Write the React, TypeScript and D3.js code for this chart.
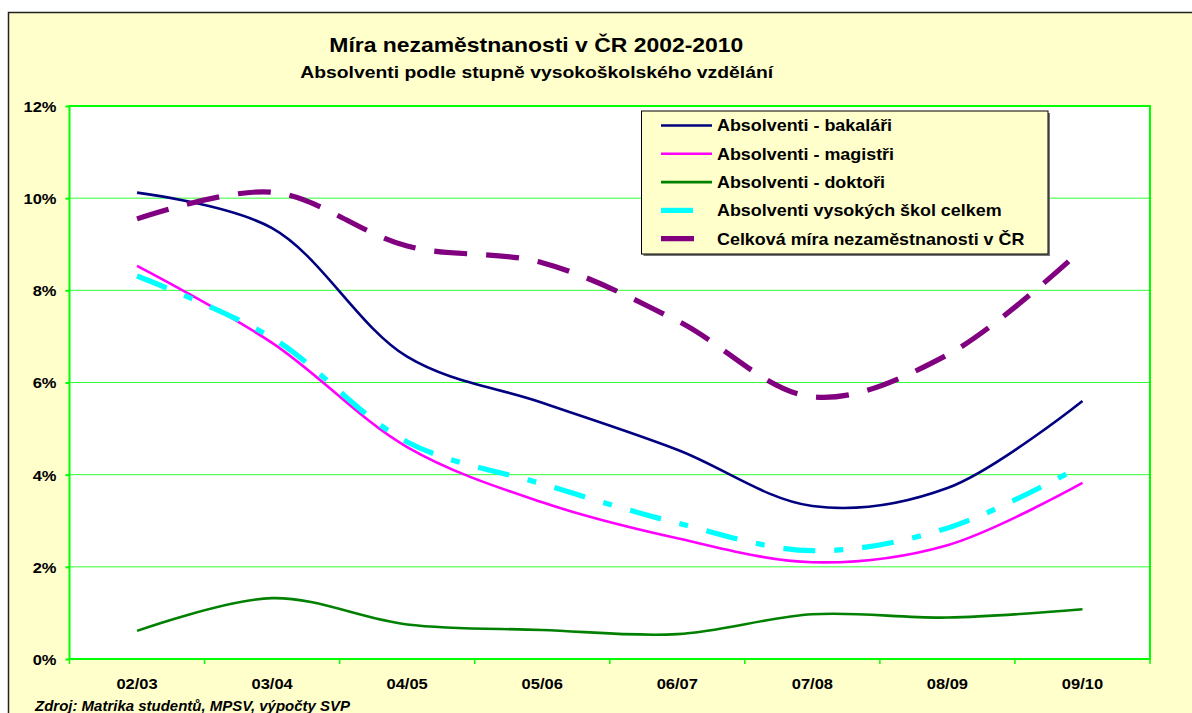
import * as d3 from "d3";
import { useEffect, useRef } from "react";

// data (percent)
const categories = ["02/03", "03/04", "04/05", "05/06", "06/07", "07/08", "08/09", "09/10"];
const bakalari = [10.12, 9.35, 6.56, 5.56, 4.54, 3.32, 3.71, 5.6];
const magistri = [8.53, 6.86, 4.6, 3.4, 2.62, 2.1, 2.47, 3.82];
const doktori = [0.61, 1.32, 0.75, 0.63, 0.54, 0.97, 0.9, 1.08];
const celkem = [8.31, 6.97, 4.71, 3.8, 2.95, 2.35, 2.84, 4.2];
const celkovaCR = [9.55, 10.13, 8.96, 8.6, 7.34, 5.69, 6.6, 8.9];
const yTicks = [0, 2, 4, 6, 8, 10, 12];

const seriesNames = [
  "Absolventi - bakaláři",
  "Absolventi - magistři",
  "Absolventi - doktoři",
  "Absolventi vysokých škol celkem",
  "Celková míra nezaměstnanosti v ČR",
];

const FONT = "'Liberation Sans', Arial, Helvetica, sans-serif";

const App = () => {
  const ref = useRef<SVGSVGElement | null>(null);

  const width = 1192;
  const height = 713;
  const plot = { left: 69.5, right: 1150, top: 106, bottom: 659 };

  useEffect(() => {
    const svg = d3.select(ref.current);
    svg.selectAll("*").remove();

    // pozadí grafu
    svg.append("rect").attr("x", 0).attr("y", 0).attr("width", width).attr("height", height).attr("fill", "#fff");
    svg.append("rect")
      .attr("x", 8.5).attr("y", 12.5)
      .attr("width", width + 20).attr("height", height + 20)
      .attr("fill", "#FFFFCC")
      .attr("stroke", "#222").attr("stroke-width", 1.5);

    // nadpisy
    svg.append("text")
      .attr("x", 536.3).attr("y", 51.7)
      .attr("text-anchor", "middle")
      .attr("font-family", FONT).attr("font-weight", "bold").attr("font-size", 21)
      .attr("textLength", 414).attr("lengthAdjust", "spacingAndGlyphs")
      .text("Míra nezaměstnanosti v ČR 2002-2010");
    svg.append("text")
      .attr("x", 536.7).attr("y", 78.3)
      .attr("text-anchor", "middle")
      .attr("font-family", FONT).attr("font-weight", "bold").attr("font-size", 17)
      .attr("textLength", 473).attr("lengthAdjust", "spacingAndGlyphs")
      .text("Absolventi podle stupně vysokoškolského vzdělání");

    const x = d3.scalePoint<string>().domain(categories).range([plot.left, plot.right]).padding(0.5);
    const step = x.step();
    const y = d3.scaleLinear().domain([0, 12]).range([plot.bottom, plot.top]);

    // plocha grafu
    svg.append("rect")
      .attr("x", plot.left).attr("y", plot.top)
      .attr("width", plot.right - plot.left).attr("height", plot.bottom - plot.top)
      .attr("fill", "#fff");

    svg.append("g")
      .selectAll("line")
      .data(yTicks.filter(d => d > 0 && d < 12))
      .enter()
      .append("line")
      .attr("x1", plot.left).attr("x2", plot.right)
      .attr("y1", d => y(d)).attr("y2", d => y(d))
      .attr("stroke", "#33FF33").attr("stroke-width", 1);

    // osa Y
    const yAxis = d3.axisLeft(y).tickValues(yTicks).tickSize(4).tickFormat(d => `${d}%`);
    const gy = svg.append("g").attr("transform", `translate(${plot.left},0)`).call(yAxis);
    gy.select(".domain").remove();
    gy.selectAll("line").attr("stroke", "#00FF00").attr("stroke-width", 2);
    gy.selectAll("text")
      .attr("font-family", FONT).attr("font-weight", "bold").attr("font-size", 15)
      .attr("fill", "#000")
      .attr("x", -13).attr("dy", "0.36em")
      .attr("transform", "scale(1.1,1)")
      .attr("transform-origin", "-13 0");

    // osa X
    const bounds = d3.range(categories.length + 1).map(i => plot.left + i * step);
    svg.append("g")
      .selectAll("line")
      .data(bounds)
      .enter()
      .append("line")
      .attr("x1", d => d).attr("x2", d => d)
      .attr("y1", plot.bottom).attr("y2", plot.bottom + 5)
      .attr("stroke", "#00FF00").attr("stroke-width", 1.5);

    svg.append("g")
      .selectAll("text")
      .data(categories)
      .enter()
      .append("text")
      .attr("transform", d => `translate(${x(d)},689.3) scale(1.1,1)`)
      .attr("text-anchor", "middle")
      .attr("font-family", FONT).attr("font-weight", "bold").attr("font-size", 15)
      .text(d => d);

    // rámeček plochy
    svg.append("rect")
      .attr("x", plot.left).attr("y", plot.top)
      .attr("width", plot.right - plot.left).attr("height", plot.bottom - plot.top)
      .attr("fill", "none")
      .attr("stroke", "#00FF00").attr("stroke-width", 2);

    // řady
    const series = [
      { values: bakalari, color: "#000080", width: 2.6, dash: null },
      { values: magistri, color: "#FF00FF", width: 2.6, dash: null },
      { values: doktori, color: "#008000", width: 2.6, dash: null },
      { values: celkem, color: "#00FFFF", width: 5.2, dash: "32,19,9,19" },
      { values: celkovaCR, color: "#800080", width: 5.2, dash: "33,19" },
    ];

    const line = d3.line<number>()
      .x((_, i) => x(categories[i]) as number)
      .y(d => y(d))
      .curve(d3.curveCatmullRom.alpha(0.5));

    series.forEach(s => {
      svg.append("path")
        .datum(s.values)
        .attr("d", line)
        .attr("fill", "none")
        .attr("stroke", s.color)
        .attr("stroke-width", s.width)
        .attr("stroke-dasharray", s.dash)
        .attr("stroke-linejoin", "round");
    });

    // legenda
    const lg = { x: 641.5, y: 111, w: 406.5, h: 143 };
    svg.append("rect")
      .attr("x", lg.x + 2).attr("y", lg.y + 2)
      .attr("width", lg.w).attr("height", lg.h)
      .attr("fill", "#777");
    svg.append("rect")
      .attr("x", lg.x).attr("y", lg.y)
      .attr("width", lg.w).attr("height", lg.h)
      .attr("fill", "#FFFFCC").attr("stroke", "#000").attr("stroke-width", 1);

    series.forEach((s, i) => {
      const cy = 125.5 + i * 28.3;
      svg.append("line")
        .attr("x1", 661).attr("x2", 712)
        .attr("y1", cy).attr("y2", cy)
        .attr("stroke", s.color)
        .attr("stroke-width", s.width)
        .attr("stroke-dasharray", s.dash);
      svg.append("text")
        .attr("transform", `translate(717,${cy + 5.8}) scale(1.12,1)`)
        .attr("font-family", FONT).attr("font-weight", "bold").attr("font-size", 16)
        .text(seriesNames[i]);
    });

    // zdroj
    svg.append("text")
      .attr("x", 35).attr("y", 711)
      .attr("font-family", FONT).attr("font-weight", "bold").attr("font-style", "italic")
      .attr("font-size", 14)
      .attr("textLength", 315).attr("lengthAdjust", "spacingAndGlyphs")
      .text("Zdroj: Matrika studentů, MPSV, výpočty SVP");
  }, []);

  return (
    <svg
      ref={ref}
      width={width}
      height={height}
      style={{ position: "absolute", left: 0, top: 0, display: "block" }}
    ></svg>
  );
};

export default App;
